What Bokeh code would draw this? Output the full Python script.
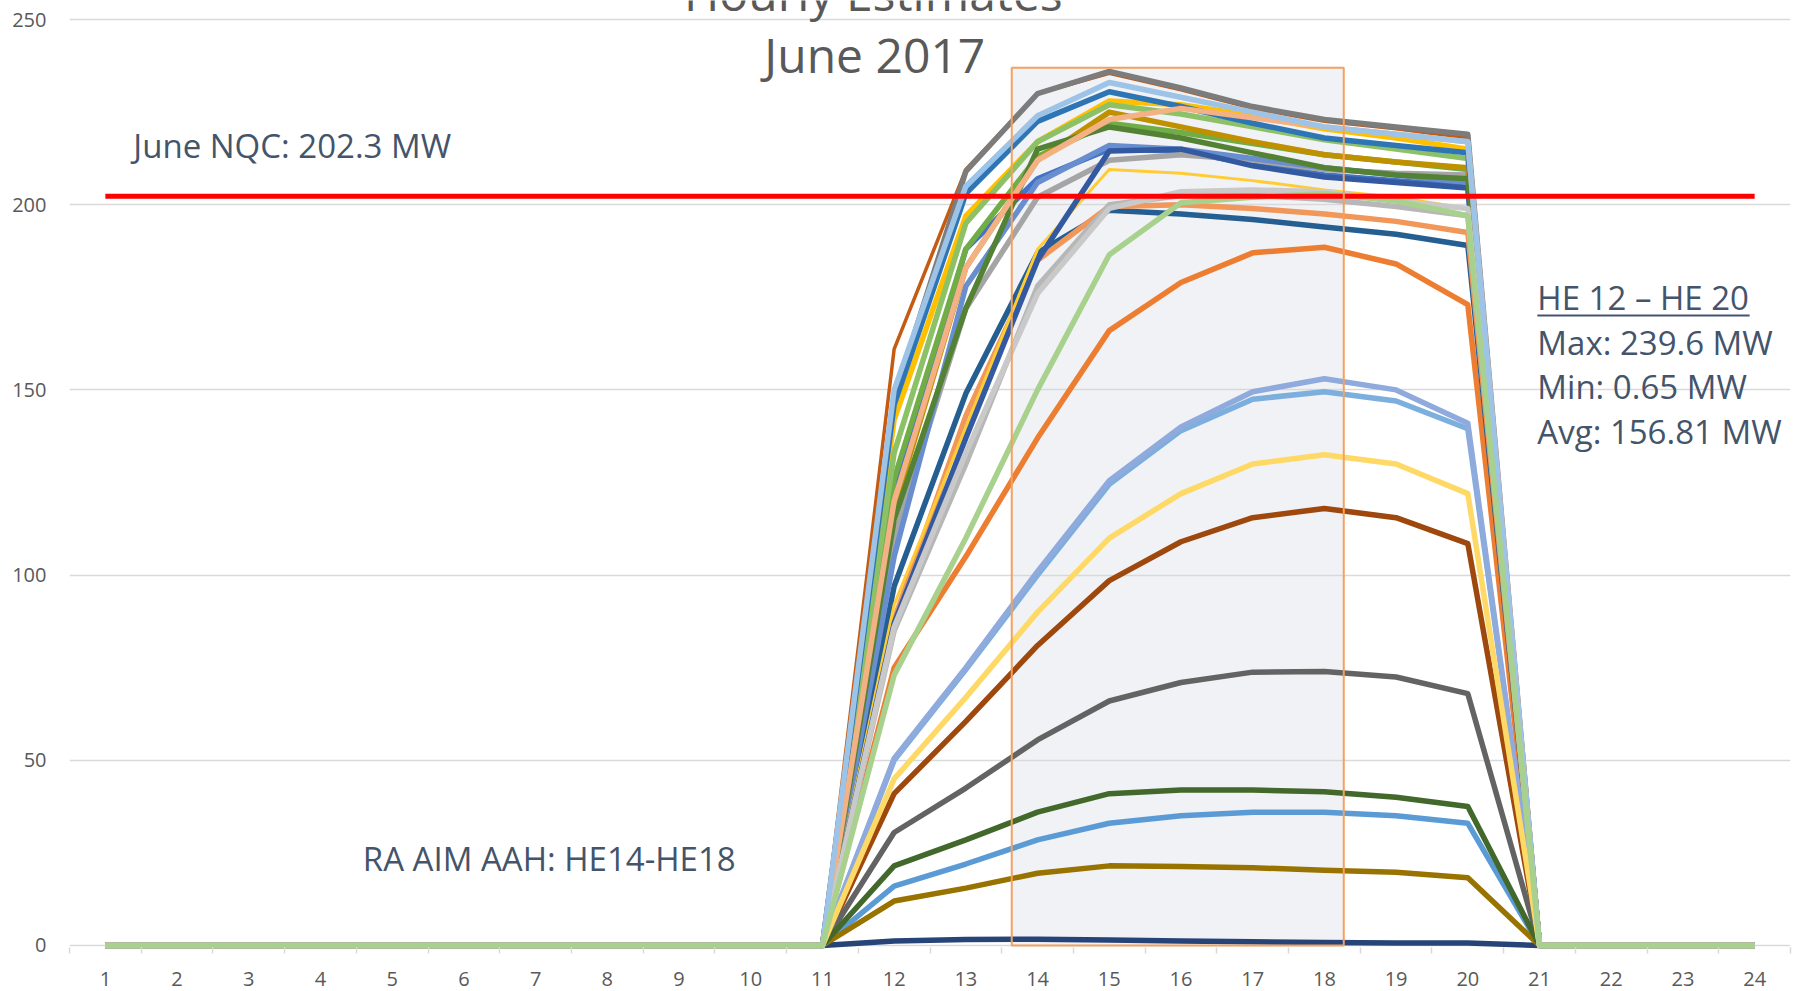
from bokeh.plotting import figure
from bokeh.models import Range1d, FixedTicker, Label, ColumnDataSource
from bokeh.embed import file_html
from bokeh.resources import INLINE

# ---------------- data ----------------
hours = list(range(1, 25))
hour_labels = [str(h) for h in hours]
y_ticks = [0, 50, 100, 150, 200, 250]
y_tick_labels = ["0", "50", "100", "150", "200", "250"]

# hourly output (MW) for HE12..HE20, each day of June 2017; other hours are 0
he_active = [12, 13, 14, 15, 16, 17, 18, 19, 20]
june_01 = [122, 188, 207, 215, 214.5, 211, 208, 206.5, 205]
june_02 = [75, 105, 137, 166, 179, 187, 188.5, 184, 173]
june_03 = [110, 172, 202, 212, 213.5, 212, 209.5, 208.5, 208]
june_04 = [142, 197, 217, 228, 227, 224, 220.5, 218, 215]
june_05 = [16, 22, 28.5, 33, 35, 36, 36, 35, 33]
june_06 = [126, 188, 213, 222, 219.5, 216.5, 213.5, 211.5, 209.5]
june_07 = [1.2, 1.6, 1.7, 1.5, 1.2, 1.0, 0.8, 0.7, 0.65]
june_08 = [41, 60.5, 81, 98.5, 109, 115.5, 118, 115.5, 108.5]
june_09 = [30.5, 42.5, 55.5, 66, 71, 73.8, 74, 72.5, 68]
june_10 = [12, 15.5, 19.5, 21.5, 21.3, 21, 20.3, 19.8, 18.3]
june_11 = [97, 149, 187, 198.5, 197.5, 196, 194, 192, 189]
june_12 = [21.5, 28.5, 36, 41, 42, 42, 41.5, 40, 37.5]
june_13 = [105, 178, 206, 216, 215, 212.5, 210, 208, 206]
june_14 = [88, 143, 185, 199.5, 200, 199, 197.5, 195.5, 192.5]
june_15 = [85, 130, 178, 200, 202.5, 202.5, 201.5, 199.5, 197]
june_16 = [92, 140, 188, 209.5, 208.5, 206.5, 204, 202, 199]
june_17 = [50, 74.5, 100, 124.5, 139, 147.5, 149.5, 147, 139.5]
june_18 = [133, 195, 217, 227, 224.5, 221, 217.5, 215, 212.5]
june_19 = [87, 137, 185, 214.5, 215, 210.5, 207.5, 206, 204.5]
june_20 = [161, 209.5, 230, 235.5, 231, 226, 222.5, 220.5, 218]
june_21 = [148, 209, 230, 236, 231.5, 226.5, 223, 221, 219]
june_22 = [118, 183, 212, 225, 221, 217, 213.5, 211.5, 210]
june_23 = [146, 203, 222.5, 230.5, 226.5, 222, 218, 216, 214]
june_24 = [115, 172, 215, 221, 218, 214, 210, 208, 207]
june_25 = [50.5, 75, 101, 125.5, 140, 149.5, 153, 150, 141]
june_26 = [120, 183, 212, 223, 226, 223.5, 221, 219, 217]
june_27 = [86, 133, 176, 199, 203.5, 204, 203.5, 201, 199]
june_28 = [45, 67, 90, 110, 122, 130, 132.5, 130, 122]
june_29 = [150, 205, 224, 233, 229, 225, 221, 219, 217]
june_30 = [73, 110, 150, 186.5, 200.5, 202, 203, 201, 197]

nqc_mw = 202.3

title_lines = ["Hourly Estimates", "June 2017"]
nqc_text = "June NQC: 202.3 MW"
stats_head = "HE 12 \u2013 HE 20"
stats_lines = ["Max: 239.6 MW", "Min: 0.65 MW", "Avg: 156.81 MW"]
aah_text = "RA AIM AAH: HE14-HE18"

# ---------------- styles ----------------
day_colors = [
    "#4472C4", "#ED7D31", "#A5A5A5", "#FFC000", "#5B9BD5", "#70AD47",
    "#264478", "#9E480E", "#636363", "#997300", "#255E91", "#43682B",
    "#698ED0", "#F1975A", "#B7B7B7", "#FFCD33", "#7CAFDD", "#8CC168",
    "#335AA1", "#C55A11", "#7C7C7C", "#BF9000", "#2E75B6", "#548235",
    "#8FAADC", "#F4B183", "#C9C9C9", "#FFD966", "#9DC3E6", "#A9D18E",
]
thin_days = {16: 3.0, 20: 3.5}
LINE_W = 5.5
TXT = "#44546A"
GREY_TXT = "#595959"
GRID = "#D9D9D9"
FONT = "Open Sans"

days = [june_01, june_02, june_03, june_04, june_05, june_06, june_07, june_08,
        june_09, june_10, june_11, june_12, june_13, june_14, june_15, june_16,
        june_17, june_18, june_19, june_20, june_21, june_22, june_23, june_24,
        june_25, june_26, june_27, june_28, june_29, june_30]


def full_day(vals):
    d = dict(zip(he_active, vals))
    return [d.get(h, 0.0) for h in hours]


# ---------------- figure ----------------
p = figure(width=1802, height=991, output_backend="svg", toolbar_location=None,
           x_range=Range1d(0.5, 24.5), y_range=Range1d(-1.08, 255.13),
           min_border_left=69, min_border_right=12, min_border_top=0,
           min_border_bottom=42)
p.outline_line_color = None
p.background_fill_color = "white"
p.border_fill_color = "white"

# axes
p.yaxis.ticker = FixedTicker(ticks=y_ticks)
p.yaxis.major_label_overrides = dict(zip(y_ticks, y_tick_labels))
p.yaxis.axis_line_color = None
p.yaxis.major_tick_line_color = None
p.yaxis.major_tick_out = 0
p.yaxis.major_tick_in = 0
p.yaxis.minor_tick_line_color = None
p.yaxis.major_label_standoff = 23
p.yaxis.major_label_text_font = FONT
p.yaxis.major_label_text_font_size = "20px"
p.yaxis.major_label_text_color = GREY_TXT

p.xaxis.ticker = FixedTicker(ticks=hours, minor_ticks=[h - 0.5 for h in hours] + [24.5])
p.xaxis.major_label_overrides = dict(zip(hours, hour_labels))
p.xaxis.axis_line_color = None
p.xaxis.major_tick_line_color = None
p.xaxis.major_tick_out = 0
p.xaxis.major_tick_in = 0
p.xaxis.minor_tick_line_color = GRID
p.xaxis.minor_tick_line_width = 1.5
p.xaxis.minor_tick_in = 2
p.xaxis.minor_tick_out = 4
p.xaxis.major_label_text_font = FONT
p.xaxis.major_label_text_font_size = "20px"
p.xaxis.major_label_text_color = GREY_TXT
p.xaxis.major_label_standoff = 18

p.ygrid.ticker = FixedTicker(ticks=y_ticks)
p.ygrid.grid_line_color = GRID
p.ygrid.grid_line_width = 1.5
p.xgrid.grid_line_color = None

# AAH window box
AAH_LEFT, AAH_RIGHT, AAH_TOP = 13.64, 18.27, 237.0
box = ColumnDataSource(dict(left=[AAH_LEFT], right=[AAH_RIGHT], top=[AAH_TOP], bottom=[0]))
p.quad(left="left", right="right", top="top", bottom="bottom", source=box,
       fill_color="#F1F2F5", line_color=None, level="image")

# daily lines
for i, (vals, col) in enumerate(zip(days, day_colors), start=1):
    p.line(hours, full_day(vals), line_color=col,
           line_width=thin_days.get(i, LINE_W), line_join="round")

# NQC line
p.line(hours, [nqc_mw] * len(hours), line_color="#FF0000", line_width=5)

# box outline on top
p.quad(left="left", right="right", top="top", bottom="bottom", source=box,
       fill_color=None, line_color="#F4A160", line_width=2)

# baseline correction (data units) for label rendering, per font size
BASE_FIX = {"33px": 3.3, "48px": 5.6}


def add_text(x, y, text, size, color, align="left"):
    p.add_layout(Label(x=x, y=y + BASE_FIX[size], text=text, text_align=align,
                       text_baseline="alphabetic", text_font=FONT,
                       text_font_size=size, text_color=color))


# titles
add_text(11.71, 251.6, title_lines[0], "48px", GREY_TXT, "center")
add_text(11.73, 234.9, title_lines[1], "48px", GREY_TXT, "center")

# annotations
add_text(1.39, 212.8, nqc_text, "33px", TXT)
HE_X, HE_Y = 20.97, 171.6
add_text(HE_X, HE_Y, stats_head, "33px", TXT)
p.line([HE_X, 23.93], [HE_Y - 1.5, HE_Y - 1.5], line_color=TXT, line_width=2)
for k, s in enumerate(stats_lines):
    add_text(HE_X, HE_Y - 12.05 * (k + 1), s, "33px", TXT)
add_text(4.59, 20.25, aah_text, "33px", TXT)

open("out.html", "w").write(file_html(p, INLINE))
